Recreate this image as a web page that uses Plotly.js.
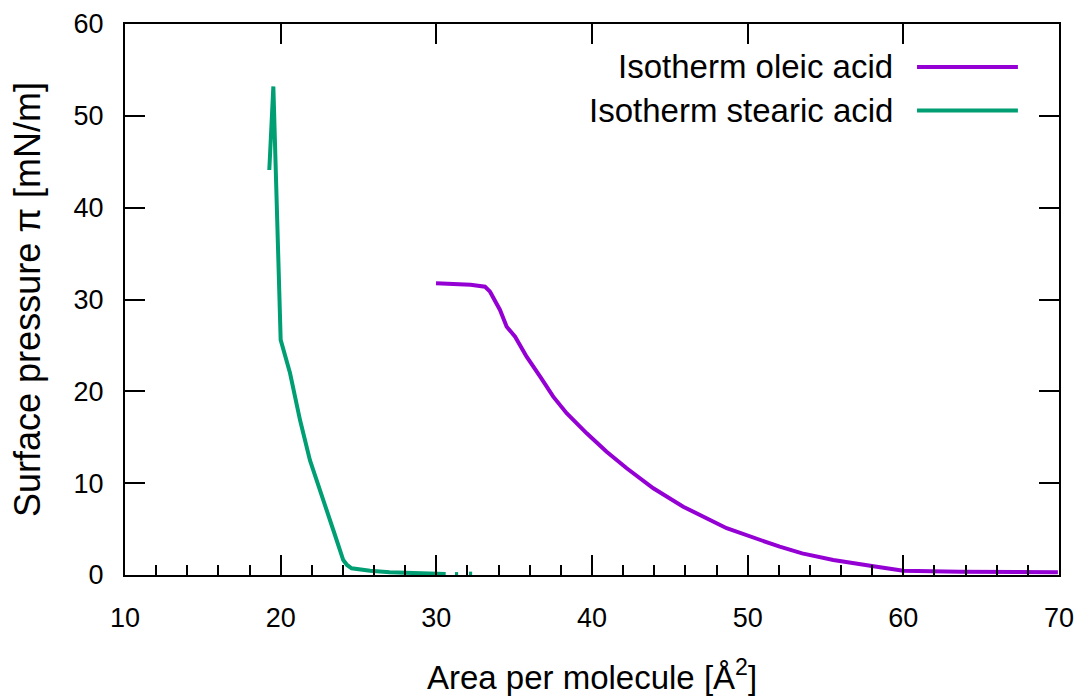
<!DOCTYPE html>
<html>
<head>
<meta charset="utf-8">
<script src="https://cdn.plot.ly/plotly-3.0.1.min.js"></script>
<style>html,body{margin:0;padding:0;background:#fff;}#chart{width:1076px;height:696px;}</style>
</head>
<body>
<div id="chart"></div>
<script>
// Oleic acid isotherm (area per molecule [Å²], surface pressure [mN/m])
const oleicArea = [29.98, 31.0, 32.2, 33.13, 33.45, 34.09, 34.52, 35.06, 35.80, 36.67, 37.51, 38.37, 39.66, 40.94, 42.23, 43.94, 45.86, 48.65, 50.0, 52.06, 53.5, 55.50, 58.29, 60.0, 63.64, 66.5, 69.93];
const oleicPressure = [31.77, 31.72, 31.6, 31.39, 30.85, 28.86, 27.04, 25.95, 23.77, 21.59, 19.42, 17.61, 15.43, 13.43, 11.62, 9.44, 7.44, 5.09, 4.25, 3.08, 2.35, 1.63, 0.90, 0.47, 0.36, 0.32, 0.29];

// Stearic acid isotherm
const stearicArea = [32.3, 32.1, null, 31.4, 31.2, null, 30.6, 28.5, 27.0, 25.74, 24.84, 24.56, 24.26, 24.02, 23.38, 22.74, 21.88, 21.24, 20.6, 20.0, 19.53, 19.27];
const stearicPressure = [0.15, 0.15, null, 0.1, 0.1, null, 0.1, 0.2, 0.3, 0.47, 0.6, 0.73, 1.09, 1.63, 4.9, 8.17, 12.5, 16.9, 22.0, 25.6, 53.2, 44.1];

const seriesNames = ["Isotherm oleic acid", "Isotherm stearic acid"];
const seriesColors = ["#9400D3", "#009E73"];

const xTitle = "Area per molecule [Å<sup>2</sup>]";
const yTitle = "Surface pressure π [mN/m]";

const font = "Liberation Sans, Arial, sans-serif";

const traces = [
  {x: oleicArea, y: oleicPressure, mode: "lines", name: seriesNames[0],
   line: {color: seriesColors[0], width: 4}, connectgaps: false},
  {x: stearicArea, y: stearicPressure, mode: "lines", name: seriesNames[1],
   line: {color: seriesColors[1], width: 4}, connectgaps: false},
  {x: [], y: [], xaxis: "x2", yaxis: "y", mode: "lines", hoverinfo: "skip", showlegend: false}
];

const legY = [0.922, 0.843];
const annotations = seriesNames.map((n, i) => ({
  text: n, xref: "paper", yref: "paper", x: 0.8244, y: legY[i],
  xanchor: "right", yanchor: "middle", showarrow: false,
  font: {family: font, size: 33, color: "#000"}
}));
const shapes = seriesNames.map((n, i) => ({
  type: "line", xref: "paper", yref: "paper", x0: 0.848, x1: 0.956, y0: legY[i], y1: legY[i],
  line: {color: seriesColors[i], width: 4}
}));

const layout = {
  width: 1076, height: 696,
  margin: {l: 125, r: 17, t: 24, b: 121},
  paper_bgcolor: "#fff", plot_bgcolor: "#fff",
  showlegend: false,
  font: {family: font, color: "#000"},
  xaxis: {
    range: [10, 70], dtick: 10, tick0: 10, ticks: "inside", ticklen: 20, tickwidth: 2, tickcolor: "#000",
    showline: true, linecolor: "#000", linewidth: 2, mirror: false, showgrid: false, zeroline: false,
    tickfont: {family: font, size: 27, color: "#000"}, ticklabelstandoff: 18,
    minor: {dtick: 2, tick0: 10, ticks: "inside", ticklen: 10, tickwidth: 2, tickcolor: "#000", showgrid: false},
    title: {text: xTitle, font: {family: font, size: 33, color: "#000"}, standoff: 34}
  },
  xaxis2: {
    overlaying: "x", side: "top", range: [10, 70], dtick: 10, tick0: 10, ticks: "inside", ticklen: 20,
    tickwidth: 2, tickcolor: "#000", showline: true, linecolor: "#000", linewidth: 2,
    showgrid: false, zeroline: false, showticklabels: false
  },
  yaxis: {
    range: [0, 60], dtick: 10, ticks: "inside", ticklen: 20, tickwidth: 2, tickcolor: "#000",
    showline: true, linecolor: "#000", linewidth: 2, mirror: "ticks", showgrid: false, zeroline: false,
    tickfont: {family: font, size: 27, color: "#000"}, ticklabelstandoff: 14,
    title: {text: yTitle, font: {family: font, size: 36, color: "#000"}, standoff: 22}
  },
  annotations: annotations,
  shapes: shapes
};

Plotly.newPlot("chart", traces, layout, {staticPlot: true, displayModeBar: false});
</script>
</body>
</html>
